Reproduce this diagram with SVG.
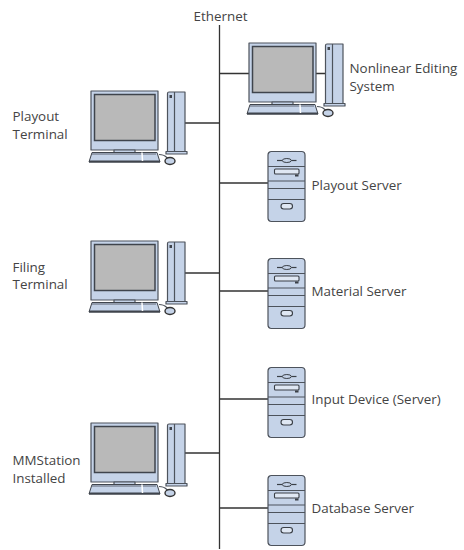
<svg xmlns="http://www.w3.org/2000/svg" width="464" height="550" viewBox="0 0 464 550">
<style>
text{font-family:"Open Sans","Noto Sans",sans-serif;font-size:13.400px;fill:#444}
.c{fill:none;stroke:#333;stroke-width:1.300}
.b{fill:#c5d3e8;stroke:#4d535c;stroke-width:1.200;stroke-linejoin:round}
.d{fill:none;stroke:#4d535c;stroke-width:1.200}
</style>
<defs>
<g id="pc">
<rect class="b" x="0" y="0" width="67" height="59"/>
<rect x="3.500" y="3.500" width="60.500" height="46" fill="#b9b9b9" stroke="#3f444c" stroke-width="1.500"/>
<rect class="b" x="23" y="59" width="21" height="2.500"/>
<path d="M1 61.500H66L69 71H-2Z" fill="#c5d3e8" stroke="#3f444c" stroke-width="1"/>
<path d="M-2 70.500H69" stroke="#3f444c" stroke-width="1.800"/>
<path d="M1.500 63H65.500" stroke="#3f444c" stroke-width="1.500" stroke-dasharray="1 1"/>
<path d="M51 61.500L51.500 70" stroke="#fff" stroke-width="1.500"/>
<path d="M68 63.500Q73 64 74 65L77 67.500" class="d"/>
<path class="b" d="M76.500 2.500Q76.500 1 78 1H94V60.500H76.500Z"/>
<path class="d" d="M83.500 1V60.500"/>
<rect x="78.500" y="4" width="2.500" height="3" fill="#3f444c"/>
<rect class="b" x="75" y="60.500" width="21" height="2.500"/>
<ellipse cx="79" cy="70" rx="5" ry="3.500" fill="#c5d3e8" stroke="#333" stroke-width="1.400"/>
</g>
<g id="srv">
<rect class="b" x="0" y="0" width="37" height="70" rx="3.500"/>
<path class="d" d="M0 15H37M0 29.500H37M0 37H37M0 48H37"/>
<path d="M9 9H28.500" stroke="#3a3f46" stroke-width="1.200"/>
<ellipse cx="18.800" cy="9" rx="4.500" ry="2" fill="#c5d3e8" stroke="#3a3f46" stroke-width="1"/>
<rect x="6.500" y="17.500" width="24.500" height="5" rx="1" fill="#dfe7f3" stroke="#3a3f46" stroke-width="1.100"/>
<rect x="27" y="23" width="3.500" height="2" fill="#3a3f46"/>
<rect x="13" y="52" width="11.500" height="5.500" rx="2.700" fill="#dfe7f3" stroke="#3a3f46" stroke-width="1.100"/>
</g>
</defs>
<g id="connectors">
<path class="c" d="M219.500 25V549"/>
<path class="c" d="M220 73.500H249M315.500 73.500H325.500"/>
<path class="c" d="M185 123H219M185 273H219M185 453H219"/>
<path class="c" d="M220 183H268M220 291H268M220 399H268M220 508H268"/>
</g>
<g id="ethernet"><text x="193.500" y="21">Ethernet</text></g>
<g id="nonlinear"><use href="#pc" x="249" y="43"/><text x="349.500" y="73">Nonlinear Editing</text><text x="349.500" y="91">System</text></g>
<g id="playout-terminal"><use href="#pc" x="91" y="91"/><text x="12.500" y="121">Playout</text><text x="12.500" y="138.500">Terminal</text></g>
<g id="filing-terminal"><use href="#pc" x="91" y="241"/><text x="12.500" y="271.500">Filing</text><text x="12.500" y="289">Terminal</text></g>
<g id="mmstation"><use href="#pc" x="91" y="423"/><text x="12.500" y="465">MMStation</text><text x="12.500" y="483">Installed</text></g>
<g id="playout-server"><use href="#srv" x="268" y="151.500"/><text x="311.500" y="190">Playout Server</text></g>
<g id="material-server"><use href="#srv" x="268" y="258.500"/><text x="311.500" y="296">Material Server</text></g>
<g id="input-device"><use href="#srv" x="268" y="367.500"/><text x="311.500" y="404">Input Device (Server)</text></g>
<g id="database-server"><use href="#srv" x="268" y="475.500"/><text x="311.500" y="513">Database Server</text></g>
</svg>
